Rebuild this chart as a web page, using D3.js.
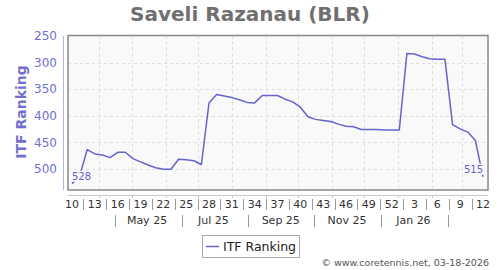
<!DOCTYPE html>
<html>
<head>
<meta charset="utf-8">
<script src="https://cdn.jsdelivr.net/npm/d3@7"></script>
<style>
  body { margin: 0; background: #fff; }
  svg { display: block; font-family: "DejaVu Sans", sans-serif; }
</style>
</head>
<body>
<svg id="chart" width="500" height="270"></svg>
<script>
const title = "Saveli Razanau (BLR)";
const seriesName = "ITF Ranking";
const footer = "\u00a9 www.coretennis.net, 03-18-2026";

// ISO week numbers, Mar 2025 .. Mar 2026
const weeks = [10, 11, 12, 13, 14, 15, 16, 17, 18, 19, 20, 21, 22, 23, 24, 25,
               26, 27, 28, 29, 30, 31, 32, 33, 34, 35, 36, 37, 38, 39, 40, 41,
               42, 43, 44, 45, 46, 47, 48, 49, 50, 51, 52,
               1, 2, 3, 4, 5, 6, 7, 8, 9, 10, 11, 12];
const startYear = 2025;

const rankings = [528, 514, 464, 472, 474, 479, 469, 469, 481, 487,
                  493, 498, 501, 501, 482, 483, 485, 492, 376, 360,
                  363, 366, 370, 375, 376, 362, 362, 362, 369, 374,
                  384, 402, 407, 409, 411, 416, 420, 421, 426, 426,
                  426, 427, 427, 427, 283, 284, 289, 293, 294, 294,
                  417, 425, 431, 447, 515];

const yTicks = [250, 300, 350, 400, 450, 500];

// friday of an iso week
function weekDate(year, week)
{
  let jan4 = new Date(Date.UTC(year, 0, 4));
  let dow = jan4.getUTCDay() || 7;
  let monday = d3.utcDay.offset(jan4, 1 - dow + (week - 1) * 7);
  return d3.utcDay.offset(monday, 4);
}

let year = startYear;
const points = weeks.map((w, i) => {
  if (i > 0 && w < weeks[i - 1])
    year++;
  return { week : w, date : weekDate(year, w), value : rankings[i] };
});

const svg = d3.select("#chart");
const plot = { left : 68, right : 488, top : 35.5, bottom : 190 };
const lineColor = "#6464cc";

const first = points[0].date;
const last = points[points.length - 1].date;

const x = d3.scaleUtc().domain([first, last]).range([72, 483]);
const y = d3.scaleLinear().domain([250, 540]).range([36, 190]);

// title
svg.append("text")
  .attr("x", 250).attr("y", 21)
  .attr("text-anchor", "middle")
  .attr("font-size", 20).attr("font-weight", "bold")
  .attr("fill", "#707070")
  .text(title);

// plot background
svg.append("rect")
  .attr("x", plot.left).attr("y", plot.top)
  .attr("width", plot.right - plot.left)
  .attr("height", plot.bottom - plot.top)
  .attr("fill", "#f9f9f9");

// grid
const months = d3.utcMonth.range(d3.utcMonth.ceil(first), last);

svg.append("g")
  .selectAll("line")
  .data(yTicks.slice(1))
  .join("line")
  .attr("x1", plot.left).attr("x2", plot.right)
  .attr("y1", d => Math.round(y(d)) + 0.5)
  .attr("y2", d => Math.round(y(d)) + 0.5)
  .attr("stroke", "#dddddd")
  .attr("stroke-dasharray", "3,3");

svg.append("g")
  .selectAll("line")
  .data(months)
  .join("line")
  .attr("x1", d => Math.round(x(d)) + 0.5)
  .attr("x2", d => Math.round(x(d)) + 0.5)
  .attr("y1", plot.top).attr("y2", plot.bottom)
  .attr("stroke", "#dddddd")
  .attr("stroke-dasharray", "3,3");

// frame
svg.append("rect")
  .attr("x", plot.left).attr("y", plot.top)
  .attr("width", plot.right - plot.left)
  .attr("height", plot.bottom - plot.top)
  .attr("fill", "none")
  .attr("stroke", "#888888")
  .attr("stroke-width", 1.5);

// y axis
svg.append("line")
  .attr("x1", 63.5).attr("x2", 63.5)
  .attr("y1", 36).attr("y2", plot.bottom)
  .attr("stroke", "#b4b4e0");

svg.append("g")
  .selectAll("text")
  .data(yTicks)
  .join("text")
  .attr("x", 57)
  .attr("y", d => y(d))
  .attr("dy", "0.36em")
  .attr("text-anchor", "end")
  .attr("font-size", 12)
  .attr("fill", "#6f6fcf")
  .text(d => d);

svg.append("text")
  .attr("transform", "translate(26,112) rotate(-90)")
  .attr("text-anchor", "middle")
  .attr("font-size", 14).attr("font-weight", "bold")
  .attr("fill", "#6f6fcf")
  .text(seriesName);

// ranking line
const line = d3.line()
               .x(d => x(d.date))
               .y(d => y(d.value));

svg.append("path")
  .datum(points)
  .attr("d", line)
  .attr("fill", "none")
  .attr("stroke", lineColor)
  .attr("stroke-width", 1.5)
  .attr("stroke-linejoin", "round");

// first / last value labels (with background box over the line)
const ends = [
  { p : points[0], anchor : "start" },
  { p : points[points.length - 1], anchor : "end" }
];
ends.forEach(e => {
  let g = svg.append("g");
  let bg = g.append("rect").attr("fill", "#f9f9f9");
  let t = g.append("text")
    .attr("x", x(e.p.date))
    .attr("y", y(e.p.value) - 4)
    .attr("text-anchor", e.anchor)
    .attr("font-size", 10)
    .attr("fill", lineColor)
    .text(e.p.value);
  let bb = t.node().getBBox();
  bg.attr("x", bb.x - 1).attr("y", bb.y)
    .attr("width", bb.width + 2).attr("height", bb.height);
});

// x axis
svg.append("line")
  .attr("x1", plot.left).attr("x2", plot.right)
  .attr("y1", 195.5).attr("y2", 195.5)
  .attr("stroke", "#c8c8c8");

svg.append("g")
  .selectAll("line")
  .data(months)
  .join("line")
  .attr("x1", d => Math.round(x(d)) + 0.5)
  .attr("x2", d => Math.round(x(d)) + 0.5)
  .attr("y1", 195).attr("y2", 198)
  .attr("stroke", "#c8c8c8");

const labelled = points.filter((d, i) => i % 3 === 0);

svg.append("g")
  .selectAll("text")
  .data(labelled)
  .join("text")
  .attr("x", d => x(d.date))
  .attr("y", 208)
  .attr("text-anchor", "middle")
  .attr("font-size", 11)
  .attr("fill", "#333333")
  .text(d => d.week);

// separators between week labels
svg.append("g")
  .selectAll("line")
  .data(d3.pairs(labelled))
  .join("line")
  .attr("x1", d => Math.round((x(d[0].date) + x(d[1].date)) / 2) + 0.5)
  .attr("x2", d => Math.round((x(d[0].date) + x(d[1].date)) / 2) + 0.5)
  .attr("y1", 199).attr("y2", 210)
  .attr("stroke", "#999999");

// month labels, every second month
const monthLabels = months.filter(m => m.getUTCMonth() % 2 === 0 &&
                                       d3.utcMonth.offset(m, 1) <= last);
const monthSeps = months.filter(m => m.getUTCMonth() % 2 === 1);
const fmt = d3.utcFormat("%b %y");

svg.append("g")
  .selectAll("text")
  .data(monthLabels)
  .join("text")
  .attr("x", d => x(d3.utcDay.offset(d, 14)))
  .attr("y", 224)
  .attr("text-anchor", "middle")
  .attr("font-size", 11)
  .attr("fill", "#333333")
  .text(d => fmt(d));

svg.append("g")
  .selectAll("line")
  .data(monthSeps)
  .join("line")
  .attr("x1", d => Math.round(x(d3.utcDay.offset(d, 15))) + 0.5)
  .attr("x2", d => Math.round(x(d3.utcDay.offset(d, 15))) + 0.5)
  .attr("y1", 215).attr("y2", 227)
  .attr("stroke", "#999999");

// legend
svg.append("rect")
  .attr("x", 202.5).attr("y", 235.5)
  .attr("width", 97).attr("height", 22)
  .attr("fill", "#ffffff")
  .attr("stroke", "#aaaaaa");

svg.append("line")
  .attr("x1", 206).attr("x2", 219)
  .attr("y1", 246.5).attr("y2", 246.5)
  .attr("stroke", lineColor)
  .attr("stroke-width", 1.5);

svg.append("text")
  .attr("x", 223).attr("y", 251)
  .attr("font-size", 12.5)
  .attr("fill", "#222222")
  .text(seriesName);

// footer
svg.append("text")
  .attr("x", 489).attr("y", 266)
  .attr("text-anchor", "end")
  .attr("font-size", 9.5)
  .attr("fill", "#555555")
  .text(footer);
</script>
</body>
</html>
